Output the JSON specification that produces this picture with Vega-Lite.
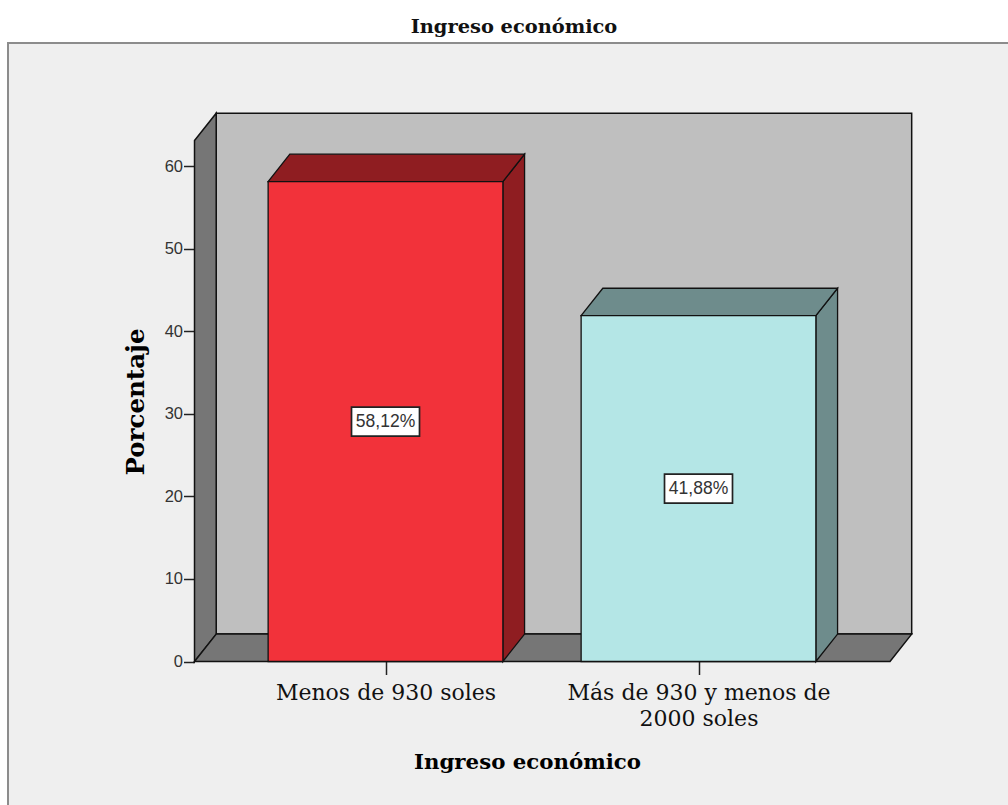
{
  "$schema": "https://vega.github.io/schema/vega-lite/v6.json",
  "width": 1002,
  "height": 765,
  "autosize": {"type": "none"},
  "padding": {"left": 8, "top": 43, "right": 0, "bottom": 0},
  "background": "#ffffff",
  "view": {"fill": "#efefef", "stroke": "#8c8c8c", "strokeWidth": 2},
  "title": {
    "text": "Ingreso económico",
    "font": "DejaVu Serif",
    "fontSize": 19.4,
    "fontWeight": "bold",
    "color": "#111111",
    "anchor": "middle",
    "dx": 5,
    "offset": 6
  },
  "datasets": {
    "ingresos": [
      {"categoria": "Menos de 930 soles", "orden": 1, "porcentaje": 58.12},
      {"categoria": "Más de 930 y menos de 2000 soles", "orden": 2, "porcentaje": 41.88}
    ],
    "pared": [{"tramo": "pared"}]
  },
  "layer": [
    {
      "description": "Back wall of the 3D box",
      "data": {"name": "pared"},
      "mark": {"type": "rect", "fill": "#bfbfbf", "stroke": "#111111", "strokeWidth": 1.5},
      "encoding": {
        "x": {
          "datum": 0.4591, "type": "quantitative",
          "scale": {"domain": [-0.2061, 2.9952], "nice": false, "zero": false},
          "axis": {
            "values": [1, 2],
            "orient": "bottom",
            "offset": -146.5,
            "grid": false,
            "domain": false,
            "tickSize": 13,
            "tickColor": "#222222",
            "tickWidth": 1.5,
            "labelExpr": "datum.value == 1 ? 'Menos de 930 soles' : ['Más de 930 y menos de', '2000 soles']",
            "labelFont": "DejaVu Serif",
            "labelFontSize": 22,
            "labelColor": "#111111",
            "labelBaseline": "alphabetic",
            "labelPadding": 25,
            "labelLineHeight": 26,
            "labelLimit": 400,
            "labelAngle": 0,
            "labelOverlap": false,
            "title": "Ingreso económico",
            "titleFont": "DejaVu Serif",
            "titleFontSize": 21.3,
            "titleFontWeight": "bold",
            "titleColor": "#000000",
            "titleX": 519,
            "titleY": 107,
            "titleBaseline": "alphabetic",
            "titleAnchor": "middle"
          }
        },
        "x2": {"datum": 2.6811},
        "y": {
          "datum": 3.32, "type": "quantitative",
          "scale": {"domain": [-17.74, 74.9], "nice": false, "zero": false},
          "axis": {
            "values": [0, 10, 20, 30, 40, 50, 60],
            "orient": "left",
            "offset": -186.5,
            "grid": false,
            "domain": false,
            "tickSize": 11,
            "tickColor": "#222222",
            "tickWidth": 1.5,
            "labelFont": "Liberation Sans",
            "labelFontSize": 16.5,
            "labelColor": "#333333",
            "labelPadding": 1,
            "title": "Porcentaje",
            "titleFont": "DejaVu Serif",
            "titleFontSize": 24.5,
            "titleFontWeight": "bold",
            "titleColor": "#000000",
            "titleX": -51.5,
            "titleY": 358.5,
            "titleBaseline": "alphabetic",
            "titleAnchor": "middle"
          }
        },
        "y2": {"datum": 66.4}
      }
    },
    {
      "description": "Left wall, receding from the front edge to the back wall",
      "data": {"name": "pared"},
      "transform": [
        {"calculate": "[0, 1]", "as": "t"},
        {"flatten": ["t"]},
        {"calculate": "0.3898 + datum.t * 0.0693", "as": "xp"},
        {"calculate": "datum.t * 3.32", "as": "ybase"},
        {"calculate": "63.1 + datum.t * 3.3", "as": "ytope"}
      ],
      "mark": {"type": "area", "fill": "#767676", "stroke": "#111111", "strokeWidth": 1.5},
      "encoding": {
        "x": {"field": "xp", "type": "quantitative"},
        "y": {"field": "ybase", "type": "quantitative", "stack": null},
        "y2": {"field": "ytope"}
      }
    },
    {
      "description": "Floor of the 3D box",
      "data": {"name": "pared"},
      "transform": [
        {"calculate": "[0, 1]", "as": "t"},
        {"flatten": ["t"]},
        {"calculate": "datum.t * 3.32", "as": "yp"},
        {"calculate": "0.3898 + datum.t * 0.0693", "as": "xizq"},
        {"calculate": "2.6118 + datum.t * 0.0693", "as": "xder"}
      ],
      "mark": {"type": "area", "orient": "horizontal", "fill": "#767676", "stroke": "#111111", "strokeWidth": 1.5},
      "encoding": {
        "y": {"field": "yp", "type": "quantitative"},
        "x": {"field": "xizq", "type": "quantitative", "stack": null},
        "x2": {"field": "xder"}
      }
    },
    {
      "description": "Shaded right side of each bar",
      "data": {"name": "ingresos"},
      "transform": [
        {"calculate": "[0, 1]", "as": "t"},
        {"flatten": ["t"]},
        {"calculate": "datum.orden + 0.375 + datum.t * 0.0693", "as": "xp"},
        {"calculate": "datum.t * 3.32", "as": "ybase"},
        {"calculate": "datum.porcentaje + datum.t * 3.32", "as": "ytope"}
      ],
      "mark": {"type": "area", "stroke": "#111111", "strokeWidth": 1.3},
      "encoding": {
        "x": {"field": "xp", "type": "quantitative"},
        "y": {"field": "ybase", "type": "quantitative", "stack": null},
        "y2": {"field": "ytope"},
        "fill": {
          "field": "categoria", "type": "nominal", "legend": null,
          "scale": {"domain": ["Menos de 930 soles", "Más de 930 y menos de 2000 soles"], "range": ["#8f1d21", "#6e8c8c"]}
        }
      }
    },
    {
      "description": "Shaded top of each bar",
      "data": {"name": "ingresos"},
      "transform": [
        {"calculate": "[0, 1]", "as": "t"},
        {"flatten": ["t"]},
        {"calculate": "datum.porcentaje + datum.t * 3.32", "as": "yp"},
        {"calculate": "datum.orden - 0.375 + datum.t * 0.0693", "as": "xizq"},
        {"calculate": "datum.orden + 0.375 + datum.t * 0.0693", "as": "xder"}
      ],
      "mark": {"type": "area", "orient": "horizontal", "stroke": "#111111", "strokeWidth": 1.3},
      "encoding": {
        "y": {"field": "yp", "type": "quantitative"},
        "x": {"field": "xizq", "type": "quantitative", "stack": null},
        "x2": {"field": "xder"},
        "fill": {
          "field": "categoria", "type": "nominal", "legend": null,
          "scale": {"domain": ["Menos de 930 soles", "Más de 930 y menos de 2000 soles"], "range": ["#8f1d21", "#6e8c8c"]}
        }
      }
    },
    {
      "description": "Front face of each bar",
      "data": {"name": "ingresos"},
      "transform": [
        {"calculate": "datum.orden - 0.375", "as": "xizq"},
        {"calculate": "datum.orden + 0.375", "as": "xder"}
      ],
      "mark": {"type": "rect", "stroke": "#111111", "strokeWidth": 1.3},
      "encoding": {
        "x": {"field": "xizq", "type": "quantitative"},
        "x2": {"field": "xder"},
        "y": {"field": "porcentaje", "type": "quantitative"},
        "y2": {"datum": 0},
        "color": {
          "field": "categoria", "type": "nominal", "legend": null,
          "scale": {"domain": ["Menos de 930 soles", "Más de 930 y menos de 2000 soles"], "range": ["#f2323a", "#b4e6e6"]}
        }
      }
    },
    {
      "description": "White box behind each value label",
      "data": {"name": "ingresos"},
      "transform": [
        {"calculate": "datum.porcentaje / 2", "as": "medio"},
        {"calculate": "datum.orden - 0.1086", "as": "cajaIzq"},
        {"calculate": "datum.orden + 0.1086", "as": "cajaDer"},
        {"calculate": "datum.medio - 1.755", "as": "cajaBaja"},
        {"calculate": "datum.medio + 1.755", "as": "cajaAlta"}
      ],
      "mark": {"type": "rect", "fill": "#ffffff", "stroke": "#222222", "strokeWidth": 1.7},
      "encoding": {
        "x": {"field": "cajaIzq", "type": "quantitative"},
        "x2": {"field": "cajaDer"},
        "y": {"field": "cajaBaja", "type": "quantitative"},
        "y2": {"field": "cajaAlta"}
      }
    },
    {
      "description": "Percentage written with a decimal comma",
      "data": {"name": "ingresos"},
      "transform": [
        {"calculate": "datum.porcentaje / 2", "as": "medio"},
        {"calculate": "replace(format(datum.porcentaje, '.2f'), '.', ',') + '%'", "as": "rotulo"}
      ],
      "mark": {"type": "text", "font": "Liberation Sans", "fontSize": 17.5, "color": "#333333", "align": "center", "baseline": "middle"},
      "encoding": {
        "x": {"field": "orden", "type": "quantitative"},
        "y": {"field": "medio", "type": "quantitative"},
        "text": {"field": "rotulo", "type": "nominal"}
      }
    }
  ],
  "resolve": {"scale": {"fill": "independent", "color": "independent"}}
}
